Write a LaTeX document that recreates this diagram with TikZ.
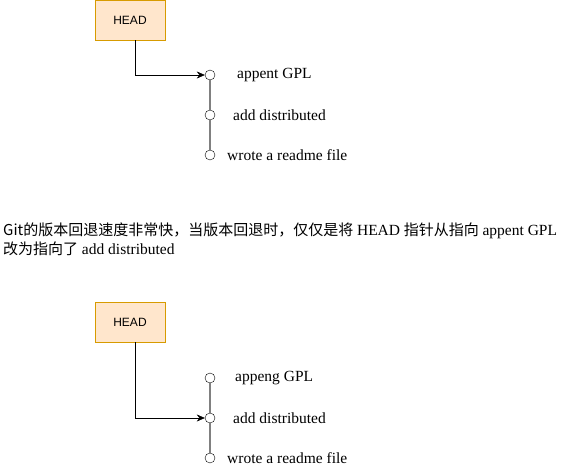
\documentclass[tikz,border=0pt]{standalone}
\usepackage{fontspec}
\setmainfont{Liberation Serif}
\newfontfamily\cjk{Noto Sans CJK SC}
\newfontfamily\headfont{Liberation Sans}
\usetikzlibrary{arrows.meta}
\definecolor{headfill}{HTML}{FFE6CC}
\definecolor{headdraw}{HTML}{D79B00}
\tikzstyle{head box}=[
        draw = headdraw,
        fill = headfill,
        minimum width = 70pt,
        minimum height = 40pt,
        font = \headfont\fontsize{12}{14}\selectfont
    ]
\tikzstyle{commit}=[
    draw = black,
    fill = white,
    minimum size = 10pt,
    inner sep = 0pt,
    circle
]
\tikzstyle{msg}=[
    anchor = west,
    inner sep = 0pt,
    font = \fontsize{15.5}{18}\selectfont
]

\begin{document}
\begin{tikzpicture}[x=1pt, y=-1pt, node distance={40pt}, >={Stealth[length=8pt,width=7pt]}]
        \useasboundingbox (0,0) rectangle (581,468);

        % before the reset
        \node[head box] (h1) at (130,20) {HEAD};
        \node[commit] (1) at (210,75) {};
        \node[commit] (2) [below of = 1] {};
        \node[commit] (3) [below of = 2] {};
        \node[msg] (m1) at (237,75) {appent GPL};
        \node[msg] (m2) at (233,115) {add distributed};
        \node[msg] (m3) at (227,155) {wrote a readme file};

        \draw[gray, line width=1.5pt] (1) -- (2);
        \draw[gray, line width=1.5pt] (2) -- (3);
        \draw[->] ([xshift=5pt]h1.south) |- (1);

        % note
        \node[anchor=north west, align=left, inner sep=0pt, font=\fontsize{15}{19}\selectfont] (note) at (3,223)
            {{\cjk Git的版本回退速度非常快，当版本回退时，仅仅是将} {\fontsize{15.5}{19}\selectfont HEAD} {\cjk 指针从指向} {\fontsize{15.5}{19}\selectfont appent GPL}\\
             {\cjk 改为指向了} {\fontsize{15.5}{19}\selectfont add distributed}};

        % after the reset
        \node[head box] (h2) at (130,322) {HEAD};
        \node[commit] (4) at (210,378) {};
        \node[commit] (5) [below of = 4] {};
        \node[commit] (6) [below of = 5] {};
        \node[msg] (m4) at (235,378) {appeng GPL};
        \node[msg] (m5) at (233,418) {add distributed};
        \node[msg] (m6) at (227,458) {wrote a readme file};

        \draw[gray, line width=1.5pt] (4) -- (5);
        \draw[gray, line width=1.5pt] (5) -- (6);
        \draw[->] ([xshift=5pt]h2.south) |- (5);

    \end{tikzpicture}
\end{document}
